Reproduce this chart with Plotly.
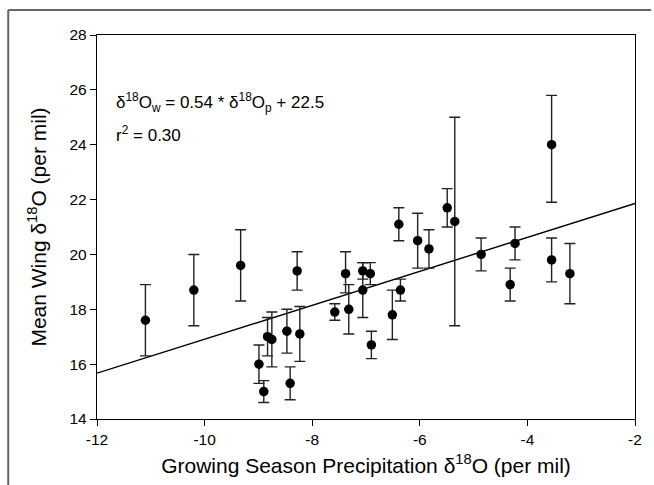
import plotly.graph_objects as go

# Growing season precipitation d18O (x) and mean wing d18O (y)
precip_d18o = [-11.10, -10.20, -9.33, -8.99, -8.90, -8.83, -8.75, -8.47, -8.41, -8.28,
               -8.23, -7.58, -7.38, -7.32, -7.06, -7.06, -6.92, -6.90, -6.51, -6.39,
               -6.36, -6.04, -5.83, -5.49, -5.35, -4.86, -4.32, -4.23, -3.55, -3.55, -3.21]
wing_d18o = [17.6, 18.7, 19.6, 16.0, 15.0, 17.0, 16.9, 17.2, 15.3, 19.4,
             17.1, 17.9, 19.3, 18.0, 19.4, 18.7, 19.3, 16.7, 17.8, 21.1,
             18.7, 20.5, 20.2, 21.7, 21.2, 20.0, 18.9, 20.4, 24.0, 19.8, 19.3]
err_plus = [1.3, 1.3, 1.3, 0.7, 0.4, 0.7, 1.0, 0.8, 0.6, 0.7,
            1.0, 0.3, 0.8, 0.9, 0.3, 1.0, 0.4, 0.5, 0.9, 0.6,
            0.4, 1.0, 0.7, 0.7, 3.8, 0.6, 0.6, 0.6, 1.8, 0.8, 1.1]
err_minus = [1.3, 1.3, 1.3, 0.7, 0.4, 0.7, 1.0, 0.8, 0.6, 0.7,
             1.0, 0.3, 0.7, 0.9, 0.3, 1.0, 0.4, 0.5, 0.9, 0.6,
             0.4, 1.0, 0.7, 0.7, 3.8, 0.6, 0.6, 0.6, 2.1, 0.8, 1.1]

# Regression line as drawn
fit_x = [-12, -2]
fit_y = [15.67, 21.86]

x_ticks = [-12, -10, -8, -6, -4, -2]
y_ticks = [14, 16, 18, 20, 22, 24, 26, 28]

FONT = "Liberation Sans, Arial, sans-serif"

fig = go.Figure()
fig.add_trace(go.Scatter(x=fit_x, y=fit_y, mode="lines",
                         line=dict(color="black", width=1.4), showlegend=False))
fig.add_trace(go.Scatter(
    x=precip_d18o, y=wing_d18o, mode="markers",
    marker=dict(color="black", size=9.5),
    error_y=dict(type="data", symmetric=False, array=err_plus, arrayminus=err_minus,
                 color="#222222", thickness=1.4, width=5.5),
    showlegend=False))

fig.add_annotation(x=-11.68, y=25.55, xref="x", yref="y", xanchor="left", yanchor="middle",
                   text="δ<sup>18</sup>O<sub>w</sub> = 0.54 * δ<sup>18</sup>O<sub>p</sub> + 22.5",
                   showarrow=False, font=dict(family=FONT, size=17, color="black"))
fig.add_annotation(x=-11.68, y=24.4, xref="x", yref="y", xanchor="left", yanchor="middle",
                   text="r<sup>2</sup> = 0.30",
                   showarrow=False, font=dict(family=FONT, size=17, color="black"))

# outer image frame (top and left)
fig.add_shape(type="line", xref="paper", yref="paper", x0=-0.165, x1=1.03, y0=1.065, y1=1.065,
              line=dict(color="#666666", width=2), layer="above")
fig.add_shape(type="line", xref="paper", yref="paper", x0=-0.165, x1=-0.165, y0=1.065, y1=-0.2,
              line=dict(color="#666666", width=2), layer="above")

axis_common = dict(showgrid=False, zeroline=False, showline=True, linecolor="black", linewidth=1.4,
                   ticks="outside", ticklen=6, tickwidth=1.4, tickcolor="black", mirror=True,
                   tickfont=dict(family=FONT, size=15.5, color="black"))
fig.update_xaxes(range=[-12, -2], tickvals=x_ticks, ticktext=[str(v) for v in x_ticks],
                 title=dict(text="Growing Season Precipitation δ<sup>18</sup>O (per mil)",
                            font=dict(family=FONT, size=21, color="black"), standoff=11),
                 **axis_common)
fig.update_yaxes(range=[14, 28], tickvals=y_ticks, ticktext=[str(v) for v in y_ticks],
                 title=dict(text="Mean Wing δ<sup>18</sup>O (per mil)",
                            font=dict(family=FONT, size=21, color="black"), standoff=17),
                 **axis_common)
fig.update_layout(width=654, height=485, margin=dict(l=97, r=12, t=35, b=66),
                  plot_bgcolor="white", paper_bgcolor="white")
fig.write_html("out.html", config={"displayModeBar": False},
               post_script="document.body.style.margin='0px';")
